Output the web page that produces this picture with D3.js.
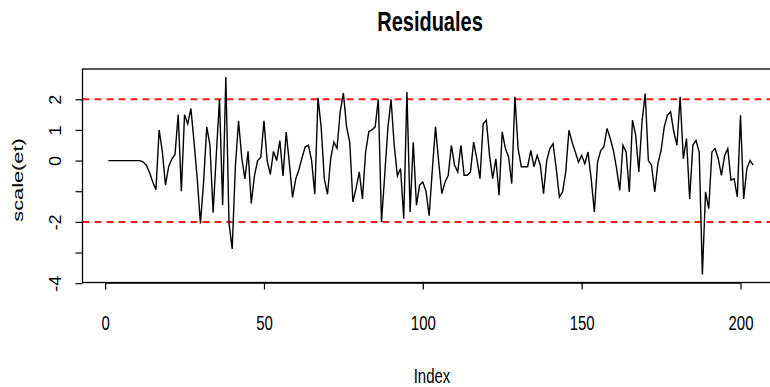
<!DOCTYPE html>
<html>
<head>
<meta charset="utf-8">
<script src="https://cdn.jsdelivr.net/npm/d3@7/dist/d3.min.js"></script>
<style>
  html, body { margin: 0; padding: 0; background: #fff; }
  svg { display: block; }
  text { font-family: "Liberation Sans", Arial, sans-serif; fill: #000; }
</style>
</head>
<body>
<svg id="chart" width="770" height="387"></svg>
<script>
// Standardised residuals, one value per observation (Index 1..204)
const residuals = [
  0, 0, 0, 0, 0, 0, 0, 0, 0, 0,
  0, -0.05, -0.15, -0.4, -0.7, -0.95, 1.0, 0.3, -0.8, -0.2,
  0.05, 0.2, 1.5, -1.0, 1.5, 1.2, 1.7, 0.6, -0.6, -2.05,
  -0.7, 1.1, 0.5, -1.7, 0.2, 2.0, -1.45, 2.73, -2.05, -2.88,
  -0.2, 1.3, 0.1, -0.6, 0.3, -1.4, -0.5, 0.0, 0.1, 1.3,
  0.0, -0.45, 0.3, 0.0, 0.65, -0.5, 0.93, -0.1, -1.2, -0.6,
  -0.3, 0.1, 0.45, 0.5, 0.0, -1.1, 2.05, 1.1, -0.6, -1.1,
  0.06, 0.6, 0.4, 1.6, 2.2, 1.1, 0.6, -1.35, -0.9, -0.37,
  -1.25, 0.28, 0.94, 1.0, 1.1, 2.0, -2.0, -0.48, 1.05, 2.0,
  0.5, -0.5, -0.26, -1.9, 2.24, -1.68, 0.6, -1.46, -0.8, -0.7,
  -1.0, -1.8, -0.3, 1.1, -0.05, -1.08, -0.7, -0.48, 0.5, -0.15,
  -0.37, 0.5, -0.48, -0.48, -0.37, 0.6, 0.06, -0.59, 1.2, 1.32,
  0.17, -0.59, 0.06, -1.13, 0.94, 0.39, 0.12, -0.75, 2.08, 0.39,
  -0.2, -0.2, -0.2, 0.33, -0.2, 0.17, -0.15, -1.08, 0.0, 0.39,
  0.55, -0.26, -1.19, -1.02, -0.37, 0.99, 0.6, 0.28, -0.05, 0.17,
  -0.1, 0.28, -0.59, -1.68, -0.05, 0.33, 0.45, 1.05, 0.72, 0.33,
  -0.26, -0.97, 0.5, 0.28, -1.02, 1.32, 0.83, -0.37, 1.26, 2.19,
  0.0, -0.15, -1.02, -0.1, 0.33, 1.1, 1.48, 1.59, 0.94, 0.5,
  2.08, 0.06, 0.72, -1.25, 0.5, 0.66, 0.28, -3.72, -1.02, -1.57,
  0.28, 0.39, 0.06, -0.48, 0.17, 0.39, -0.64, -0.59, -1.19, 1.48,
  -1.25, -0.26, 0.0, -0.15
];
const xTicks = [0, 50, 100, 150, 200];
const yTicks = [-4, -3, -2, -1, 0, 1, 2];
const yTickLabels = ["-4", "", "-2", "", "0", "1", "2"];
const refLines = [2, -2];
const titleText = "Residuales";
const xLabel = "Index";
const yLabel = "scale(et)";

const index = residuals.map((_, i) => i + 1);

// R-style axis ranges: data extent padded by 4% on each side
function padded(ext) {
  const d = (ext[1] - ext[0]) * 0.04;
  return [ext[0] - d, ext[1] + d];
}

const plot = { left: 82.5, right: 779, top: 69, bottom: 282.5 };

const x = d3.scaleLinear().domain(padded(d3.extent(index))).range([plot.left, plot.right]);
const y = d3.scaleLinear().domain(padded(d3.extent(residuals))).range([plot.bottom, plot.top]);

const svg = d3.select("#chart");

// Reference lines at +/-2
svg.append("g").selectAll("line").data(refLines).join("line")
  .attr("x1", plot.left).attr("x2", plot.right)
  .attr("y1", d => y(d)).attr("y2", d => y(d))
  .attr("stroke", "#ff1a1a").attr("stroke-width", 2)
  .attr("stroke-dasharray", "7,5");

// Residual series
const line = d3.line().x((d, i) => x(index[i])).y(d => y(d));
svg.append("path").datum(residuals)
  .attr("d", line)
  .attr("fill", "none").attr("stroke", "#000").attr("stroke-width", 1.4)
  .attr("stroke-linejoin", "miter");

// Plot frame
svg.append("rect")
  .attr("x", plot.left).attr("y", plot.top)
  .attr("width", plot.right - plot.left).attr("height", plot.bottom - plot.top)
  .attr("fill", "none").attr("stroke", "#000").attr("stroke-width", 1.3);

// Bottom axis
const xAxis = d3.axisBottom(x).tickValues(xTicks).tickSize(7);
const gx = svg.append("g").attr("transform", `translate(0,${plot.bottom})`).call(xAxis);
gx.select(".domain").attr("d", `M${x(xTicks[0])},0.5H${x(xTicks[xTicks.length - 1])}`)
  .attr("stroke-width", 1.3);
gx.selectAll(".tick line").attr("stroke-width", 1.2);
gx.selectAll(".tick text")
  .attr("y", 0).attr("dy", 0)
  .attr("transform", "translate(0,47.5) scale(1,1.3)")
  .attr("font-size", 15)
  .attr("font-family", "Liberation Sans, Arial, sans-serif");

// Left axis with rotated labels
const yAxis = d3.axisLeft(y).tickValues(yTicks).tickSize(7)
  .tickFormat((d, i) => yTickLabels[i]);
const gy = svg.append("g").attr("transform", `translate(${plot.left},0)`).call(yAxis);
gy.select(".domain").remove();
gy.selectAll(".tick line").attr("stroke-width", 1.2);
gy.selectAll(".tick text")
  .attr("x", 0).attr("dy", 0)
  .attr("transform", "translate(-27,0) rotate(-90) scale(1.2,1.15)")
  .attr("text-anchor", "middle")
  .attr("dominant-baseline", "central")
  .attr("font-size", 15)
  .attr("font-family", "Liberation Sans, Arial, sans-serif");

// Title and axis titles
svg.append("text")
  .attr("transform", "translate(430,31) scale(1,1.35)")
  .attr("text-anchor", "middle")
  .attr("font-size", 20).attr("font-weight", "bold")
  .text(titleText);

svg.append("text")
  .attr("transform", "translate(432,383) scale(1,1.3)")
  .attr("text-anchor", "middle")
  .attr("font-size", 15)
  .text(xLabel);

svg.append("text")
  .attr("transform", "translate(18,180) rotate(-90) scale(1.45,1)")
  .attr("text-anchor", "middle")
  .attr("dominant-baseline", "central")
  .attr("font-size", 15)
  .text(yLabel);
</script>
</body>
</html>
